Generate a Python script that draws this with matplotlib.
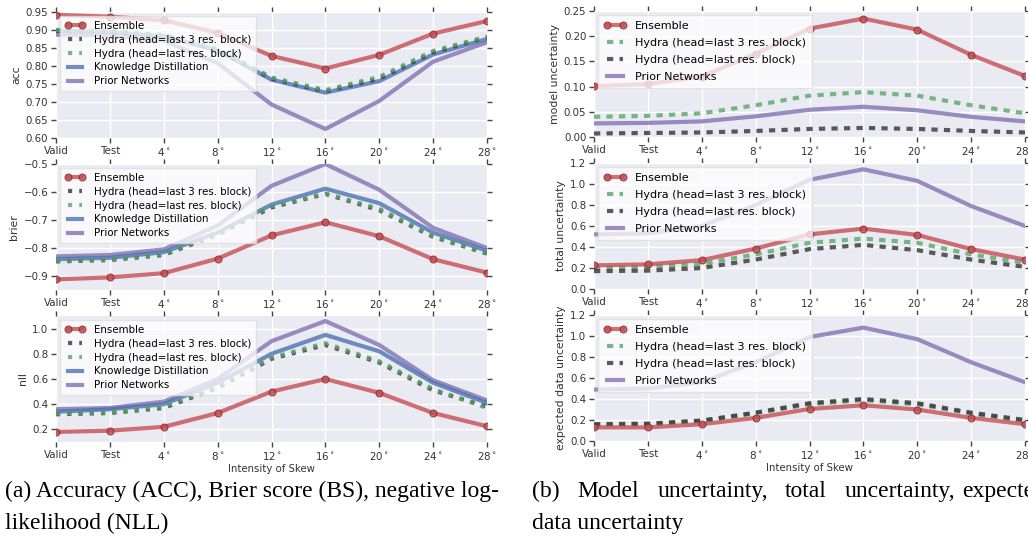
import matplotlib
matplotlib.use("Agg")
import matplotlib.pyplot as plt
import numpy as np

# x categories
x_labels = ["Valid", "Test", r"4$^\circ$", r"8$^\circ$", r"12$^\circ$", r"16$^\circ$",
            r"20$^\circ$", r"24$^\circ$", r"28$^\circ$"]

# (a) accuracy / brier / nll
acc_ens = [0.942, 0.937, 0.927, 0.892, 0.828, 0.793, 0.831, 0.890, 0.925]
acc_hyd3 = [0.898, 0.895, 0.885, 0.845, 0.765, 0.730, 0.765, 0.838, 0.880]
acc_hydl = [0.900, 0.897, 0.887, 0.848, 0.768, 0.733, 0.770, 0.842, 0.882]
acc_kd = [0.898, 0.894, 0.883, 0.843, 0.762, 0.726, 0.758, 0.832, 0.875]
acc_pn = [0.887, 0.885, 0.870, 0.808, 0.693, 0.625, 0.703, 0.812, 0.866]

brier_ens = [-0.912, -0.905, -0.890, -0.838, -0.755, -0.708, -0.758, -0.840, -0.888]
brier_hyd3 = [-0.848, -0.843, -0.825, -0.752, -0.655, -0.607, -0.665, -0.760, -0.820]
brier_hydl = [-0.846, -0.841, -0.822, -0.748, -0.650, -0.605, -0.660, -0.757, -0.818]
brier_kd = [-0.840, -0.835, -0.815, -0.745, -0.645, -0.588, -0.640, -0.745, -0.810]
brier_pn = [-0.830, -0.825, -0.805, -0.720, -0.578, -0.500, -0.592, -0.728, -0.800]

nll_ens = [0.18, 0.19, 0.22, 0.33, 0.50, 0.60, 0.49, 0.33, 0.225]
nll_hyd3 = [0.32, 0.33, 0.37, 0.53, 0.76, 0.87, 0.73, 0.51, 0.38]
nll_hydl = [0.325, 0.335, 0.38, 0.54, 0.77, 0.885, 0.74, 0.52, 0.37]
nll_kd = [0.34, 0.36, 0.40, 0.57, 0.80, 0.95, 0.82, 0.57, 0.41]
nll_pn = [0.36, 0.37, 0.42, 0.60, 0.90, 1.06, 0.87, 0.59, 0.43]

# (b) uncertainties
mu_ens = [0.101, 0.105, 0.120, 0.165, 0.215, 0.235, 0.213, 0.163, 0.121]
mu_hyd3 = [0.040, 0.042, 0.047, 0.063, 0.082, 0.089, 0.082, 0.063, 0.047]
mu_hydl = [0.007, 0.008, 0.009, 0.012, 0.016, 0.018, 0.016, 0.012, 0.009]
mu_pn = [0.027, 0.028, 0.031, 0.041, 0.054, 0.060, 0.053, 0.040, 0.031]

tu_ens = [0.225, 0.235, 0.275, 0.385, 0.52, 0.575, 0.515, 0.38, 0.28]
tu_hyd3 = [0.20, 0.21, 0.24, 0.33, 0.44, 0.48, 0.44, 0.33, 0.25]
tu_hydl = [0.17, 0.175, 0.20, 0.28, 0.38, 0.42, 0.37, 0.28, 0.21]
tu_pn = [0.52, 0.53, 0.60, 0.80, 1.04, 1.14, 1.03, 0.79, 0.60]

du_ens = [0.13, 0.13, 0.16, 0.22, 0.305, 0.34, 0.30, 0.22, 0.16]
du_hyd3 = [0.155, 0.16, 0.19, 0.265, 0.35, 0.39, 0.35, 0.26, 0.19]
du_hydl = [0.16, 0.165, 0.195, 0.27, 0.36, 0.40, 0.36, 0.27, 0.20]
du_pn = [0.49, 0.50, 0.56, 0.75, 0.99, 1.08, 0.97, 0.75, 0.56]

RED, DARK, GREEN, BLUE, PURPLE = "#C44E52", "#333333", "#55A868", "#4C72B0", "#8172B2"
LW = 3.0
A = 0.8

W, H = 1028, 538
fig = plt.figure(figsize=(W / 100, H / 100), dpi=100)
fig.patch.set_facecolor("white")


def px_axes(x0, y0, x1, y1):
    return fig.add_axes([x0 / W, 1 - y1 / H, (x1 - x0) / W, (y1 - y0) / H])


def style(ax, ylim, yticks, ylabels, ylabel, xlabel=False):
    ax.set_facecolor("#EAEAF2")
    for s in ax.spines.values():
        s.set_visible(False)
    ax.grid(True, color="white", lw=1.0)
    ax.set_axisbelow(True)
    ax.set_xlim(0, 8)
    ax.set_ylim(*ylim)
    ax.set_xticks(np.arange(9))
    ax.set_xticklabels(x_labels)
    ax.set_yticks(yticks)
    ax.set_yticklabels(ylabels)
    ax.tick_params(direction="out", length=3.5, width=1, color="#444444",
                   labelcolor="#333333", labelsize=7.4, pad=2,
                   top=True, right=True)
    ax.set_ylabel(ylabel, fontsize=7.8, color="#333333", labelpad=3)
    if xlabel:
        ax.set_xlabel("Intensity of Skew", fontsize=7.3, color="#333333", labelpad=2)


def dotted(ax, y, color, label, z):
    ax.plot(range(9), y, color=color, lw=LW, ls=(0, (1, 1.7)), alpha=A, label=label, zorder=z)


def dashed(ax, y, color, label, z):
    ax.plot(range(9), y, color=color, lw=LW, ls=(0, (1.5, 1.5)), alpha=A, label=label, zorder=z)


def solid(ax, y, color, label, z, marker=None):
    ax.plot(range(9), y, color=color, lw=LW, alpha=A, label=label, zorder=z,
            marker=marker, markersize=5, markeredgecolor="#8a2a2e", markeredgewidth=0.8)


left_rows = [(12, 138), (164, 290), (316, 442)]
right_rows = [(11, 137), (163, 289), (315, 441)]

acc_ticks = [0.60, 0.65, 0.70, 0.75, 0.80, 0.85, 0.90, 0.95]
brier_ticks = [-0.9, -0.8, -0.7, -0.6, -0.5]
nll_ticks = [0.2, 0.4, 0.6, 0.8, 1.0]
mu_ticks = [0.0, 0.05, 0.10, 0.15, 0.20, 0.25]
u_ticks = [0.0, 0.2, 0.4, 0.6, 0.8, 1.0, 1.2]

# (a) panels
left_data = [
    (acc_ens, acc_hyd3, acc_hydl, acc_kd, acc_pn, (0.60, 0.95), acc_ticks,
     ["{:.2f}".format(v) for v in acc_ticks], "acc"),
    (brier_ens, brier_hyd3, brier_hydl, brier_kd, brier_pn, (-0.95, -0.5), brier_ticks,
     ["\u2212{:.1f}".format(abs(v)) for v in brier_ticks], "brier"),
    (nll_ens, nll_hyd3, nll_hydl, nll_kd, nll_pn, (0.1, 1.1), nll_ticks,
     ["{:.1f}".format(v) for v in nll_ticks], "nll"),
]
for i, ((y0, y1), d) in enumerate(zip(left_rows, left_data)):
    ens, h3, hl, kd, pn, ylim, yt, ytl, lab = d
    ax = px_axes(56, y0, 487, y1)
    solid(ax, ens, RED, "Ensemble", 5, marker="o")
    dotted(ax, h3, DARK, "Hydra (head=last 3 res. block)", 4)
    dotted(ax, hl, GREEN, "Hydra (head=last res. block)", 4.5)
    solid(ax, kd, BLUE, "Knowledge Distillation", 3)
    solid(ax, pn, PURPLE, "Prior Networks", 2)
    style(ax, ylim, yt, ytl, lab, xlabel=(i == 2))
    leg = ax.legend(loc="upper left", fontsize=7.4, numpoints=2, handlelength=2.0,
                    labelspacing=0.38, borderaxespad=0.35, borderpad=0.5,
                    fancybox=False, framealpha=0.75, edgecolor="#dddddd")
    leg.set_zorder(10)

# (b) panels
right_data = [
    (mu_ens, mu_hyd3, mu_hydl, mu_pn, (0, 0.25), mu_ticks,
     ["{:.2f}".format(v) for v in mu_ticks], "model uncertainty"),
    (tu_ens, tu_hyd3, tu_hydl, tu_pn, (0, 1.2), u_ticks,
     ["{:.1f}".format(v) for v in u_ticks], "total uncertainty"),
    (du_ens, du_hyd3, du_hydl, du_pn, (0, 1.2), u_ticks,
     ["{:.1f}".format(v) for v in u_ticks], "expected data uncertainty"),
]
for i, ((y0, y1), d) in enumerate(zip(right_rows, right_data)):
    ens, h3, hl, pn, ylim, yt, ytl, lab = d
    ax = px_axes(594, y0, 1025, y1)
    solid(ax, ens, RED, "Ensemble", 5, marker="o")
    dashed(ax, h3, GREEN, "Hydra (head=last 3 res. block)", 3.5)
    dashed(ax, hl, DARK, "Hydra (head=last res. block)", 4)
    solid(ax, pn, PURPLE, "Prior Networks", 2)
    style(ax, ylim, yt, ytl, lab, xlabel=(i == 2))
    leg = ax.legend(loc="upper left", fontsize=8.0, numpoints=2, handlelength=2.0,
                    labelspacing=0.62, borderaxespad=0.35, borderpad=0.55,
                    fancybox=False, framealpha=0.75, edgecolor="#dddddd")
    leg.set_zorder(10)

# captions (line 1 of (b) is justified and runs past the right edge)
serif = "Liberation Serif"
cap = dict(fontsize=17, family=serif, va="baseline", ha="left")
fig.text(5 / W, 1 - 497 / H, "(a) Accuracy (ACC), Brier score (BS), negative log-", **cap)
fig.text(5 / W, 1 - 529 / H, "likelihood (NLL)", **cap)
b_words = ["(b)", "Model", "uncertainty,", "total", "uncertainty,", "expected"]
b_x = [532, 577, 658, 785, 845, 962]
for wd, xx in zip(b_words, b_x):
    fig.text(xx / W, 1 - 497 / H, wd, **cap)
fig.text(532 / W, 1 - 529 / H, "data uncertainty", **cap)

fig.savefig("out.png", dpi=100)
